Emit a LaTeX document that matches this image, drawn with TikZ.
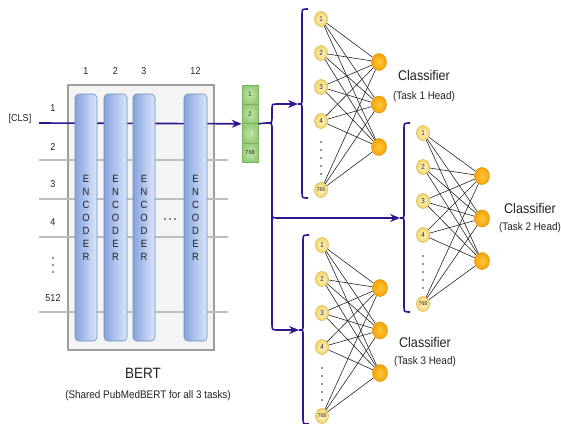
\documentclass[tikz,border=0pt]{standalone}
\usepackage{fontspec}
\setmainfont{Liberation Sans}[FakeStretch=0.9]
\usetikzlibrary{arrows.meta,shapes.geometric}
\definecolor{ind}{HTML}{32148C}
\definecolor{encb}{HTML}{6C8EBF}
\definecolor{encl}{HTML}{86A3DE}
\definecolor{encr}{HTML}{DCE6FA}
\definecolor{boxf}{HTML}{F4F4F4}
\definecolor{boxd}{HTML}{9E9E9E}
\definecolor{rowg}{HTML}{BDBDBD}
\definecolor{vecd}{HTML}{7DB060}
\definecolor{vecl}{HTML}{C6E6B0}
\definecolor{vecr}{HTML}{94CC76}
\definecolor{ind1}{HTML}{FFF6CF}
\definecolor{ind2}{HTML}{F5D466}
\definecolor{indd}{HTML}{D6B656}
\definecolor{out1}{HTML}{FFC83A}
\definecolor{out2}{HTML}{F6A20A}
\definecolor{outd}{HTML}{DC9A10}
\definecolor{txt}{HTML}{222222}
\newcommand\fs[1]{\fontsize{#1}{#1}\selectfont}
\newcommand\headnet[4]{%
  % #1 prefix, #2 input x, #3 first input y, #4 output x
  \foreach \k/\t/\d in {1/1/0,2/2/34,3/3/68,4/4/102,5/{\fs{5.5}768}/171}
    {\node[inpnode] (#1i\k) at (#2,#3+\d) {\t};}
  \foreach \k/\d in {1/43,2/85.5,3/128}
    {\node[outnode] (#1o\k) at (#4,#3+\d) {};}
  \foreach \a in {1,...,5}{\foreach \b in {1,2,3}{\draw[edge] (#1i\a) -- (#1o\b);}}
  \foreach \j in {0,...,4}{\fill[txt] (#2,#3+123+\j*8) circle (0.9);}
  \draw[conn] (#2-13,#3-10) .. controls (#2-19,#3-10) .. (#2-19,#3-4)
     -- (#2-19,#3+80) .. controls (#2-19,#3+85) .. (#2-23,#3+85)
     .. controls (#2-19,#3+85) .. (#2-19,#3+90)
     -- (#2-19,#3+173) .. controls (#2-19,#3+179) .. (#2-13,#3+179);
  \coordinate (#1b) at (#2-23,#3+85);
}
\begin{document}
\begin{tikzpicture}[x=1pt,y=-1pt,
  lbl/.style={font=\fs{10}, text=txt, inner sep=0},
  enc/.style={draw=encb, left color=encl, right color=encr, rounded corners=4pt,
     minimum width=22pt, minimum height=247pt, inner sep=0, line width=0.6pt,
     align=center, font=\fontsize{10.5}{13}\selectfont, text=txt},
  rowline/.style={draw=rowg, line width=1.6pt},
  conn/.style={draw=ind, line width=1.6pt},
  arr/.style={conn, -{Stealth[length=10pt,width=8pt]}},
  vcell/.style={draw=vecd, inner color=vecl, outer color=vecr, minimum width=16pt,
     inner sep=0, line width=0.6pt, font=\fs{6.5}, text=txt},
  inpnode/.style={ellipse, draw=indd, inner color=ind1, outer color=ind2,
     minimum width=13pt, minimum height=15pt, inner sep=0, font=\fs{7}, text=txt, line width=0.5pt},
  outnode/.style={ellipse, draw=outd, inner color=out1, outer color=out2,
     minimum width=15pt, minimum height=17pt, inner sep=0, line width=0.5pt},
  edge/.style={draw=black!85, line width=0.6pt},
]
\useasboundingbox (0,0) rectangle (561,423);

% BERT box
\node[draw=boxd, fill=boxf, line width=1.5pt, minimum width=146pt, minimum height=265pt, inner sep=0] (bert) at (141,217.5) {};

% token rows
\foreach \y in {160,199,237,312}{\draw[rowline] (39,\y) -- (228,\y);}

% vector
\node[vcell, minimum height=19pt] (v1) at (250,94.5) {1};
\node[vcell, minimum height=19.5pt] (v2) at (250,113.75) {2};
\node[vcell, minimum height=19.5pt] (v3) at (250,133.25) {:};
\node[vcell, minimum height=19pt] (v4) at (250,152.5) {\fs{6}768};

% CLS line
\coordinate (clsstart) at (39,123);
\draw[arr] (clsstart) -- (v2.south west);

% encoders
\node[enc] (e1) at (86,217.5) {E\\N\\C\\O\\D\\E\\R};
\node[enc, minimum width=23pt] (e2) at (115.5,217.5) {E\\N\\C\\O\\D\\E\\R};
\node[enc] (e3) at (144,217.5) {E\\N\\C\\O\\D\\E\\R};
\node[enc, minimum width=23pt] (e4) at (195.5,217.5) {E\\N\\C\\O\\D\\E\\R};
\foreach \x in {165,170,175}{\fill[txt] (\x,219) circle (0.8);}

% column labels
\node[lbl] (c1) at (86,71) {1};
\node[lbl] (c2) at (115.5,71) {2};
\node[lbl] (c3) at (144,71) {3};
\node[lbl] (c12) at (195.5,71) {12};

% row labels
\node[lbl] (cls) at (20,119) {[CLS]};
\node[lbl] (r1) at (53,108) {1};
\node[lbl] (r2) at (53,147) {2};
\node[lbl] (r3) at (53,184) {3};
\node[lbl] (r4) at (53,222) {4};
\foreach \y in {258,265,272}{\fill[txt] (53,\y) circle (0.9);}
\node[lbl] (r512) at (53,298) {512};

% BERT caption
\node[font=\fs{15}, text=txt, inner sep=0] (bertlbl) at (143,373) {BERT};
\node[font=\fs{11}, text=txt, inner sep=0] (bertsub) at (148,396) {(Shared PubMedBERT for all 3 tasks)};

% heads
\headnet{a}{321}{19}{379}
\headnet{b}{423}{133}{482}
\headnet{c}{322}{245}{380}

% classifier labels
\node[font=\fs{14}, text=txt, inner sep=0] (la) at (424,75) {Classifier};
\node[font=\fs{11}, text=txt, inner sep=0] (lsa) at (424,97) {(Task 1 Head)};
\node[font=\fs{14}, text=txt, inner sep=0] (lb) at (530,208) {Classifier};
\node[font=\fs{11}, text=txt, inner sep=0] (lsb) at (530,228) {(Task 2 Head)};
\node[font=\fs{14}, text=txt, inner sep=0] (lc) at (425,342) {Classifier};
\node[font=\fs{11}, text=txt, inner sep=0] (lsc) at (425,362) {(Task 3 Head)};

% split connectors
\coordinate (split) at (266,123);
\draw[conn] (v2.south east) -- (split);
\draw[arr] (split) .. controls (272,123) .. (272,117) -- (272,109)
   .. controls (272,104) .. (278,104) -- (ab);
\draw[arr] (split) .. controls (272,123) .. (272,129) -- (272,212)
   .. controls (272,218) .. (278,218) -- (bb);
\draw[arr] (272,212) -- (272,324) .. controls (272,330) .. (278,330) -- (cb);
\end{tikzpicture}
\end{document}
